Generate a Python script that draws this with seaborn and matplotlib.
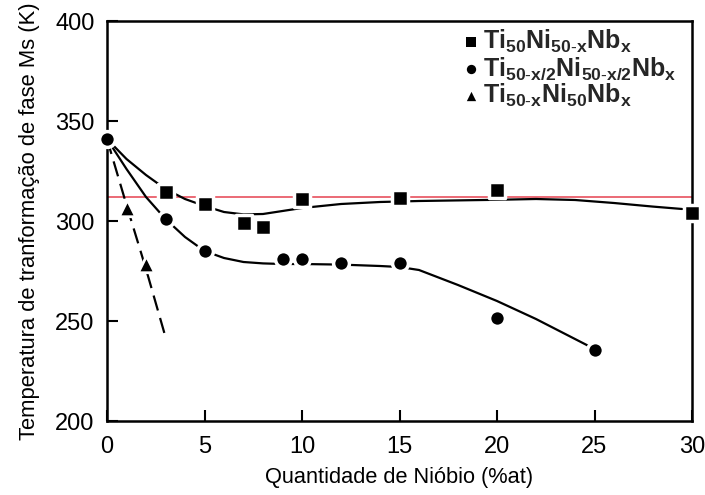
import matplotlib
matplotlib.use("Agg")
import matplotlib.pyplot as plt
import seaborn as sns
import pandas as pd

# measured points
sq_x = [3, 5, 7, 8, 10, 15, 20, 30]
sq_y = [314.5, 308.5, 299, 297, 311, 311.5, 315.5, 304]
ci_x = [0, 3, 5, 9, 10, 12, 15, 20, 25]
ci_y = [341, 301, 285, 281, 281, 279, 279, 251.5, 235.5]
tr_x = [1, 2]
tr_y = [306.5, 278.5]

# fitted curves
sq_fit_x = [0, 1, 2, 3, 4, 5, 6, 7, 8, 9, 10, 12, 14, 16, 18, 20, 22, 24, 26, 28, 29.5]
sq_fit_y = [341, 331, 323, 316, 311, 307.5, 304.5, 303.3, 303.5, 305, 306.5, 308.5,
            309.5, 310, 310.3, 310.6, 311, 310.5, 309, 307.2, 306]
ci_fit_x = [0, 1, 2, 3, 4, 5, 6, 7, 8, 9, 10, 12, 14, 15, 16, 18, 20, 22, 24, 25]
ci_fit_y = [341, 326, 312, 301, 292, 285, 281.5, 279.5, 278.8, 278.5, 278.5, 278.2,
            277.5, 277, 275.5, 268, 260, 251, 241, 236]
tr_fit_x = [0, 1, 2, 3]
tr_fit_y = [341, 308, 276, 242]

ms_line = 312

labels = [r"Ti$_{50}$Ni$_{50\text{-}x}$Nb$_{x}$",
          r"Ti$_{50\text{-}x/2}$Ni$_{50\text{-}x/2}$Nb$_{x}$",
          r"Ti$_{50\text{-}x}$Ni$_{50}$Nb$_{x}$"]

sns.set_theme(style="ticks")
plt.rcParams['font.family'] = ['Liberation Sans', 'DejaVu Sans']
plt.rcParams['mathtext.fontset'] = 'custom'
plt.rcParams['mathtext.rm'] = 'Liberation Sans'
plt.rcParams['mathtext.it'] = 'Liberation Sans'
plt.rcParams['mathtext.default'] = 'regular'

fig = plt.figure(figsize=(7.05, 4.95), dpi=100)
ax = fig.add_axes([107 / 705, 1 - 421 / 495, 585 / 705, 400 / 495])

sq_fit = pd.DataFrame({'x': sq_fit_x, 'y': sq_fit_y})
ci_fit = pd.DataFrame({'x': ci_fit_x, 'y': ci_fit_y})
tr_fit = pd.DataFrame({'x': tr_fit_x, 'y': tr_fit_y})

sns.lineplot(data=sq_fit, x='x', y='y', ax=ax, color='black', lw=1.6, sort=False, estimator=None)
sns.lineplot(data=ci_fit, x='x', y='y', ax=ax, color='black', lw=1.6, sort=False, estimator=None)
sns.lineplot(data=tr_fit, x='x', y='y', ax=ax, color='black', lw=1.6, sort=False, estimator=None)
ax.lines[-1].set_dashes((7, 3.5))

ax.axhline(ms_line, color='#e8505e', lw=1.2, zorder=1)

pts = dict(color='black', edgecolor='white', clip_on=False, zorder=5, ax=ax)
sns.scatterplot(x=sq_x, y=sq_y, marker='s', s=120, linewidth=2.5, label=labels[0], **pts)
sns.scatterplot(x=ci_x, y=ci_y, marker='o', s=130, linewidth=2.5, label=labels[1], **pts)
sns.scatterplot(x=tr_x, y=tr_y, marker='^', s=140, linewidth=2, label=labels[2], **pts)

ax.set_xlim(0, 30)
ax.set_ylim(200, 400)
ax.set_xticks([0, 5, 10, 15, 20, 25, 30])
ax.set_yticks([200, 250, 300, 350, 400])
ax.tick_params(direction='in', length=8, width=1.5, colors='black')
ax.tick_params(axis='y', labelsize=17, pad=9)
ax.tick_params(axis='x', labelsize=17, pad=11)
for s in ax.spines.values():
    s.set_linewidth(1.8)
    s.set_color('black')

ax.set_xlabel('Quantidade de Nióbio (%at)', fontsize=15.7, color='black', labelpad=6)
ax.set_ylabel('Temperatura de tranformação de fase Ms (K)', fontsize=15.8, color='black', labelpad=11)

leg = ax.legend(loc='upper right', bbox_to_anchor=(1.0, 1.02), frameon=False,
                prop={'size': 18, 'weight': 'bold'}, handletextpad=0.15,
                handlelength=0.7, labelspacing=0.0, borderaxespad=0.2)
for h in leg.legend_handles:
    h.set_edgecolor('black')
    h.set_linewidth(0)
    h.set_sizes([45])

fig.savefig('out.png', dpi=100)
